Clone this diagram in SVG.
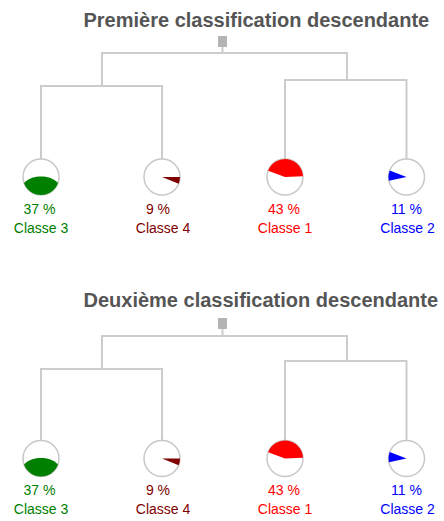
<svg xmlns="http://www.w3.org/2000/svg" width="444" height="521" viewBox="0 0 444 521">
<style>
.title{font-family:"Liberation Sans",Arial,sans-serif;font-weight:bold;font-size:20px;fill:#555555}
.lbl{font-family:"Liberation Sans",Arial,sans-serif;font-size:14px;text-anchor:middle}
.conn{fill:none;stroke:#cccccc;stroke-width:2}
.ring{fill:#ffffff;stroke:#c8c8c8;stroke-width:1.5}
.root{fill:#b4b4b4}
.c3{fill:#008000}.c4{fill:#800000}.c1{fill:#ff0000}.c2{fill:#0000ff}
</style>
<rect width="444" height="521" fill="#ffffff"/>

<!-- First classification -->
<g id="title1"><text class="title" x="83.5" y="27">Première classification descendante</text></g>
<g id="connectors1">
<path class="conn" d="M222.5 47V53M102 86V53H347V80M41 159V86H162V159M285 159V80H406.5V159"/>
</g>
<g id="root1"><rect class="root" x="218" y="36" width="9" height="11"/></g>
<g id="classe3-1">
<circle class="ring" cx="41" cy="177" r="18"/>
<path class="c3" d="M24.02 182.98C29 178 35 176.5 41 176.5C47 176.5 53 178 57.98 182.98A18 18 0 0 1 24.02 182.98Z"/>
<text class="lbl c3" x="39.5" y="214">37 %</text>
<text class="lbl c3" x="41" y="232.5">Classe 3</text>
</g>
<g id="classe4-1">
<circle class="ring" cx="162" cy="177" r="18"/>
<path class="c4" d="M162 177L180 177A18 18 0 0 1 178.69 183.74Z"/>
<text class="lbl c4" x="158" y="214">9 %</text>
<text class="lbl c4" x="163" y="232.5">Classe 4</text>
</g>
<g id="classe1-1">
<circle class="ring" cx="285" cy="177" r="18"/>
<path class="c1" d="M285 177L302.98 176.21A18 18 0 0 0 268.09 170.84Z"/>
<text class="lbl c1" x="284" y="214">43 %</text>
<text class="lbl c1" x="285" y="232.5">Classe 1</text>
</g>
<g id="classe2-1">
<circle class="ring" cx="406.5" cy="177" r="18"/>
<path class="c2" d="M406.5 177L389.7 170.55A18 18 0 0 0 388.89 180.74Z"/>
<text class="lbl c2" x="406.5" y="214">11 %</text>
<text class="lbl c2" x="407.5" y="232.5">Classe 2</text>
</g>

<!-- Second classification -->
<g id="title2"><text class="title" x="83.5" y="307">Deuxième classification descendante</text></g>
<g id="connectors2">
<path class="conn" d="M222.5 329V336M102 369V336H347V361M41 440.5V369H162V440.5M285 440.5V361H406.5V440.5"/>
</g>
<g id="root2"><rect class="root" x="218" y="318" width="9" height="11"/></g>
<g id="classe3-2">
<circle class="ring" cx="41" cy="458.5" r="18"/>
<path class="c3" d="M24.02 464.48C29 459.5 35 458 41 458C47 458 53 459.5 57.98 464.48A18 18 0 0 1 24.02 464.48Z"/>
<text class="lbl c3" x="39.5" y="495">37 %</text>
<text class="lbl c3" x="41" y="514">Classe 3</text>
</g>
<g id="classe4-2">
<circle class="ring" cx="162" cy="458.5" r="18"/>
<path class="c4" d="M162 458.5L180 458.5A18 18 0 0 1 178.69 465.24Z"/>
<text class="lbl c4" x="158" y="495">9 %</text>
<text class="lbl c4" x="163" y="514">Classe 4</text>
</g>
<g id="classe1-2">
<circle class="ring" cx="285" cy="458.5" r="18"/>
<path class="c1" d="M285 458.5L302.98 457.71A18 18 0 0 0 268.09 452.34Z"/>
<text class="lbl c1" x="284" y="495">43 %</text>
<text class="lbl c1" x="285" y="514">Classe 1</text>
</g>
<g id="classe2-2">
<circle class="ring" cx="406.5" cy="458.5" r="18"/>
<path class="c2" d="M406.5 458.5L389.7 452.05A18 18 0 0 0 388.89 462.24Z"/>
<text class="lbl c2" x="406.5" y="495">11 %</text>
<text class="lbl c2" x="407.5" y="514">Classe 2</text>
</g>
</svg>
